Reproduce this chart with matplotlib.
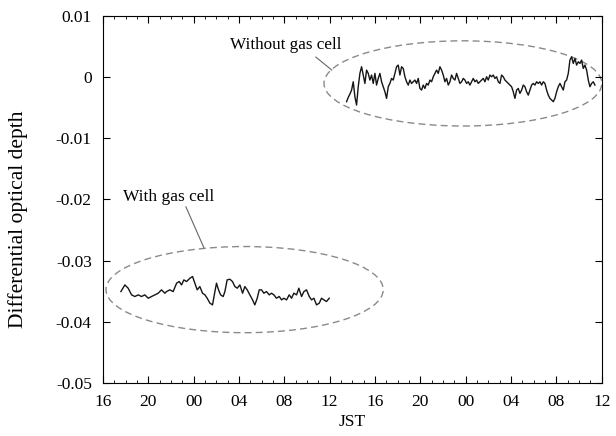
import matplotlib
matplotlib.use("Agg")
import numpy as np
import matplotlib.pyplot as plt
from matplotlib.patches import Ellipse
from matplotlib.ticker import MultipleLocator

plt.rcParams['font.family'] = ['Liberation Serif', 'DejaVu Serif']

# hours since 16:00 JST on the first day
tick_pos = [0, 4, 8, 12, 16, 20, 24, 28, 32, 36, 40, 44]
tick_labels = ['16', '20', '00', '04', '08', '12', '16', '20', '00', '04', '08', '12']

# "With gas cell" series (time in hours, differential optical depth)
with_t = [1.59, 1.94, 2.23, 2.53, 2.82, 3.12, 3.41, 3.70, 4.00, 4.29, 4.59, 4.88,
          5.17, 5.47, 5.61, 5.91, 6.20, 6.50, 6.73, 6.94, 7.14, 7.38, 7.67, 7.91,
          8.11, 8.32, 8.55, 8.79, 9.00, 9.20, 9.44, 9.67, 9.88, 10.02, 10.20, 10.38,
          10.61, 10.76, 10.96, 11.20, 11.43, 11.64, 11.85, 12.08, 12.32, 12.52, 12.73,
          12.96, 13.20, 13.40, 13.61, 13.79, 13.99, 14.20, 14.43, 14.67, 14.87, 15.08,
          15.31, 15.55, 15.76, 15.96, 16.20, 16.43, 16.64, 16.84, 17.08, 17.28, 17.52,
          17.73, 17.96, 18.20, 18.40, 18.61, 18.84, 19.08, 19.28, 19.49, 19.72, 19.96]
with_v = [-0.03507, -0.03398, -0.03452, -0.03561, -0.03588, -0.03561, -0.03588, -0.03561,
          -0.03616, -0.03588, -0.03561, -0.03534, -0.03479, -0.03534, -0.03507, -0.03479,
          -0.03507, -0.03370, -0.03343, -0.03398, -0.03316, -0.03343, -0.03289, -0.03261,
          -0.03370, -0.03479, -0.03425, -0.03534, -0.03561, -0.03616, -0.03697, -0.03725,
          -0.03507, -0.03370, -0.03479, -0.03561, -0.03588, -0.03507, -0.03316, -0.03305,
          -0.03343, -0.03425, -0.03452, -0.03398, -0.03534, -0.03425, -0.03479, -0.03561,
          -0.03643, -0.03725, -0.03616, -0.03479, -0.03479, -0.03534, -0.03507, -0.03561,
          -0.03534, -0.03561, -0.03616, -0.03588, -0.03643, -0.03616, -0.03643, -0.03561,
          -0.03616, -0.03534, -0.03561, -0.03452, -0.03588, -0.03507, -0.03479, -0.03588,
          -0.03643, -0.03616, -0.03725, -0.03697, -0.03616, -0.03643, -0.03670, -0.03616]

# "Without gas cell" series, sampled evenly from t2_start (values in units of 1e-3)
t2_start = 21.49
t2_step = 0.147
without_v = [-4.00, -3.30, -2.75, -2.10, -0.74, -3.19, -4.55, -1.55, 0.63, 1.72,
             0.36, -1.01, 1.17, 0.63, -0.46, 0.36, -1.01, 0.63, -1.28, -0.19,
             0.63, -0.74, -1.55, -2.37, -3.46, -1.55, -1.01, -0.19, -0.46, 0.63,
             1.72, 1.99, 0.36, 1.72, 1.44, 0.08, -0.74, -1.28, -0.46, -1.01,
             -0.74, -0.46, -1.01, -0.19, -1.83, -2.10, -1.28, -1.83, -1.01, -1.28,
             -0.46, -0.74, 0.08, 0.63, 1.17, 0.63, 1.72, 1.17, 0.36, -0.74,
             -0.19, -1.28, -0.74, 0.36, -0.19, -0.46, 0.63, -0.19, -1.01, -0.74,
             -0.19, -0.46, -1.01, -0.74, -1.28, -0.74, -0.19, -0.74, -0.46, -1.01,
             -0.74, -0.46, -0.19, -0.74, 0.08, -0.46, 0.36, 0.08, 0.36, -0.19,
             0.08, -0.74, -1.01, 0.36, 0.08, -0.46, -0.74, -1.01, -1.28, -1.55,
             -2.37, -3.46, -2.10, -1.83, -2.64, -2.10, -1.28, -1.55, -2.37, -2.92,
             -2.10, -1.28, -1.01, -1.28, -0.74, -1.01, -0.74, -1.28, -0.74, -1.01,
             -2.10, -2.92, -3.46, -3.73, -4.00, -3.46, -2.37, -1.55, -1.01, -1.55,
             -2.10, -0.74, -0.46, 0.63, 2.81, 3.35, 2.26, 3.08, 1.99, 2.53,
             2.26, 2.81, 1.44, 1.99, 1.17, -0.46, -1.55, -1.01, -0.74, -1.28]

fig = plt.figure(figsize=(6.16, 4.36), dpi=100)
ax = fig.add_axes([0.167, 0.122, 0.81, 0.841])

line_col = '#151515'
gray = '#8a8a8a'

ax.plot(with_t, with_v, color=line_col, lw=1.0)
t2 = t2_start + t2_step * np.arange(len(without_v))
ax.plot(t2, np.array(without_v) * 1e-3, color=line_col, lw=1.0)

# dashed ellipses around each series
ax.add_patch(Ellipse((12.5, -0.03475), width=24.45, height=0.0141, fill=False,
                     ec=gray, lw=1.0, ls=(0, (5, 3))))
ax.add_patch(Ellipse((31.75, -0.00101), width=24.5, height=0.01394, fill=False,
                     ec=gray, lw=1.0, ls=(0, (5, 3))))

# labels with leader lines
ax.text(1.76, -0.0196, 'With gas cell', fontsize=12.5, va='center', ha='left')
ax.plot([7.32, 8.91], [-0.0212, -0.0279], color='#666666', lw=0.8)
ax.text(11.2, 0.00526, 'Without gas cell', fontsize=12.3, va='center', ha='left')
ax.plot([18.78, 20.19], [0.0033, 0.00117], color='#666666', lw=0.8)

ax.set_xlim(0, 44)
ax.set_ylim(-0.05, 0.01)
ax.set_xticks(tick_pos)
ax.set_xticklabels(tick_labels)
ax.xaxis.set_minor_locator(MultipleLocator(1))
ax.set_yticks([-0.05, -0.04, -0.03, -0.02, -0.01, 0, 0.01])
ax.set_yticklabels(['-0.05', '-0.04', '-0.03', '-0.02', '-0.01', '0', '0.01'])
ax.tick_params(which='both', direction='in', top=True, right=True, labelsize=12.5)
ax.tick_params(which='major', length=5, pad=8)
ax.tick_params(which='minor', length=2.5)

ax.set_xlabel('JST', fontsize=12.5, labelpad=3)
ax.set_ylabel('Differential optical depth', fontsize=15.5)
ax.yaxis.set_label_coords(-0.15, 0.445)

fig.savefig('out.png', dpi=100)
